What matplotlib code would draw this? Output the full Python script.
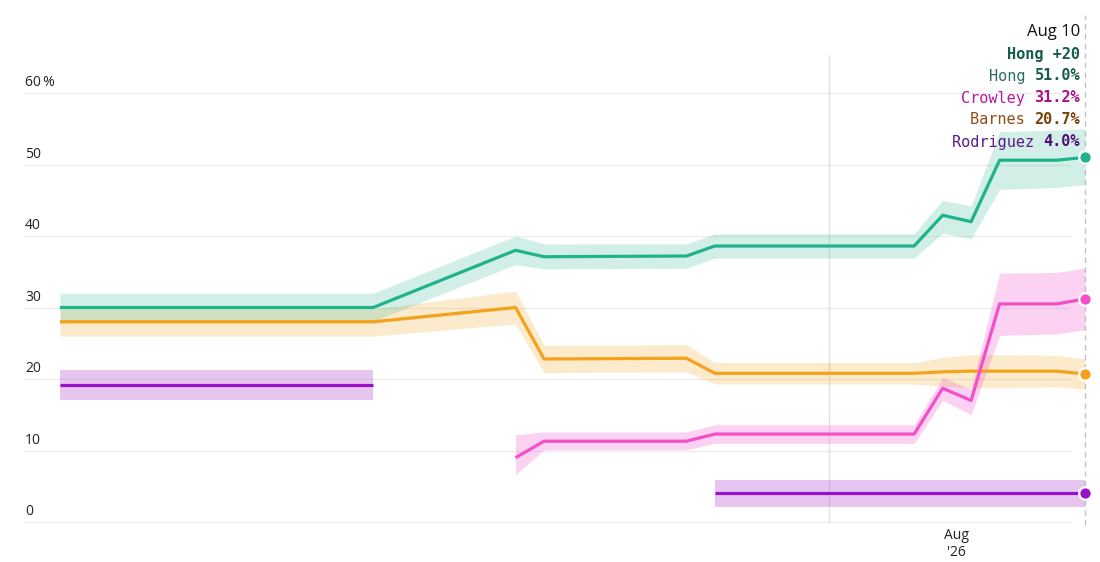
import numpy as np
import matplotlib
matplotlib.use("Agg")
import matplotlib.pyplot as plt
import matplotlib.transforms as mtransforms

plt.rcParams['font.family'] = ['Open Sans', 'DejaVu Sans']

# poll dates (one shared x axis, NaN where a candidate has no estimate)
dates = np.array(['2026-05-30', '2026-06-21', '2026-07-01', '2026-07-03',
                  '2026-07-13', '2026-07-15', '2026-07-29', '2026-07-31',
                  '2026-08-02', '2026-08-04', '2026-08-08', '2026-08-10'],
                 dtype='datetime64[D]')
nan = np.nan

hong = [30.0, 30.0, 38.0, 37.1, 37.2, 38.6, 38.6, 42.9, 42.0, 50.6, 50.6, 51.0]
hong_lo = [28.1, 28.1, 36.0, 35.4, 35.5, 36.9, 36.9, 40.4, 39.6, 46.5, 46.8, 47.2]
hong_hi = [32.0, 32.0, 40.0, 38.9, 38.9, 40.3, 40.3, 45.0, 44.2, 54.6, 54.8, 55.0]

barnes = [28.0, 28.0, 30.0, 22.8, 22.9, 20.8, 20.8, 21.0, 21.1, 21.1, 21.1, 20.7]
barnes_lo = [26.0, 26.0, 27.7, 20.9, 21.0, 19.3, 19.3, 19.0, 18.8, 18.8, 18.9, 18.6]
barnes_hi = [29.8, 29.8, 32.3, 24.7, 24.8, 22.3, 22.3, 23.0, 23.4, 23.4, 23.3, 22.8]

crowley = [nan, nan, 9.0, 11.3, 11.3, 12.3, 12.3, 18.7, 17.0, 30.5, 30.5, 31.2]
crowley_lo = [nan, nan, 6.6, 10.1, 10.1, 11.0, 11.0, 17.0, 15.0, 26.1, 26.3, 26.9]
crowley_hi = [nan, nan, 12.2, 12.6, 12.6, 13.6, 13.6, 20.2, 18.6, 34.8, 34.9, 35.5]

rodriguez = [19.1, 19.1, nan, nan, nan, 4.0, 4.0, 4.0, 4.0, 4.0, 4.0, 4.0]
rodriguez_lo = [17.0, 17.0, nan, nan, nan, 2.1, 2.1, 2.1, 2.1, 2.1, 2.1, 2.1]
rodriguez_hi = [21.2, 21.2, nan, nan, nan, 5.9, 5.9, 5.9, 5.9, 5.9, 5.9, 5.9]

y_ticks = [0, 10, 20, 30, 40, 50, 60]
y_tick_labels = ['0', '10', '20', '30', '40', '50', '60\u2009%']
month_tick = np.datetime64('2026-08-01')
month_label = "Aug\n'26"
marker_date = np.datetime64('2026-07-23')

hover_date = 'Aug 10'
lead_text = 'Hong +20'
names = ['Hong', 'Crowley', 'Barnes', 'Rodriguez']
values = ['51.0%', '31.2%', '20.7%', '4.0%']

series = [
    (barnes, barnes_lo, barnes_hi, '#f5a11c', 0.22),
    (hong, hong_lo, hong_hi, '#1fb38b', 0.20),
    (crowley, crowley_lo, crowley_hi, '#f24fc8', 0.25),
    (rodriguez, rodriguez_lo, rodriguez_hi, '#9b0fc8', 0.24),
]
name_colors = ['#2d6e5e', '#b8189b', '#8d4c12', '#5e1a8a']
value_colors = ['#165c4a', '#a8108a', '#7a4008', '#4e0f7a']

W, H = 1100, 562
fig = plt.figure(figsize=(W / 100, H / 100), dpi=100)
ax = fig.add_axes([60 / W, 1 - 522 / H, 1025 / W, (522 - 93) / H])
ax.set_xlim(dates[0], dates[-1])
ax.set_ylim(0, 60)
for s in ax.spines.values():
    s.set_visible(False)
ax.set_yticks([])

# horizontal gridlines and labels sitting above them
blend = mtransforms.blended_transform_factory(ax.transAxes, ax.transData)
gx0, gx1 = (25 - 60) / 1025, (1070 - 60) / 1025
for v, lab in zip(y_ticks, y_tick_labels):
    ax.plot([gx0, gx1], [v, v], transform=blend, color='#ececec', lw=0.9,
            clip_on=False, zorder=0)
    ax.annotate(lab, (gx0, v), xycoords=blend, xytext=(0, 2),
                textcoords='offset points', ha='left', va='bottom',
                fontsize=10, color='#222222')

# reference lines
ax.plot([marker_date, marker_date], [0, 65.3], color='#e2e2e2', lw=1,
        clip_on=False, zorder=0)
ax.plot([dates[-1], dates[-1]], [-0.4, 70.9], color='#c4c4c4', lw=1,
        ls=(0, (4, 3)), clip_on=False, zorder=0)

for vals, lo, hi, col, a in series:
    vals, lo, hi = np.array(vals), np.array(lo), np.array(hi)
    ax.fill_between(dates, lo, hi, color=col, alpha=a, lw=0, zorder=1)
    ax.plot(dates, vals, color=col, lw=2.3, zorder=3, solid_capstyle='butt')
    ax.plot(dates[-1], vals[-1], 'o', ms=9, mfc=col, mec='white', mew=1.6,
            clip_on=False, zorder=5)

ax.set_xticks([month_tick])
ax.set_xticklabels([month_label], fontsize=10, color='#222222',
                   linespacing=1.2)
ax.tick_params(axis='x', length=0, pad=4)

# hover box, right aligned, names regular, values bold
xr = 1080 / W
fig.text(xr, 1 - 32 / H, hover_date, ha='right', va='center', fontsize=12,
         color='#111111')
fig.text(xr, 1 - 54 / H, lead_text, ha='right', va='center', fontsize=11,
         family='DejaVu Sans Mono', weight='bold', color='#165c4a')
fig.canvas.draw()
renderer = fig.canvas.get_renderer()
for i, (nm, val) in enumerate(zip(names, values)):
    y = 1 - (76 + 22 * i) / H
    t = fig.text(xr, y, val, ha='right', va='center', fontsize=11,
                 family='DejaVu Sans Mono', weight='bold',
                 color=value_colors[i])
    bb = t.get_window_extent(renderer)
    fig.text(bb.x0 / W, y, nm + ' ', ha='right', va='center', fontsize=11,
             family='DejaVu Sans Mono', color=name_colors[i])

fig.savefig('out.png', dpi=100, facecolor='white')
